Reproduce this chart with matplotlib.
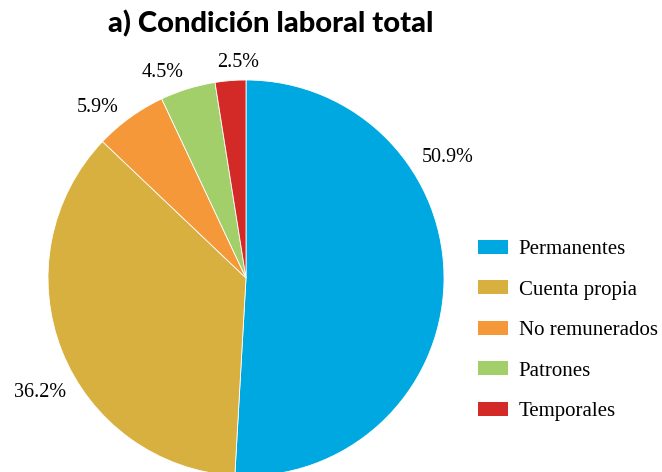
import matplotlib
matplotlib.use("Agg")
import matplotlib.pyplot as plt
from matplotlib.patches import Patch

plt.rcParams["font.serif"] = ["Liberation Serif", "DejaVu Serif"]

categories = ["Permanentes", "Cuenta propia", "No remunerados", "Patrones", "Temporales"]
values = [50.9, 36.2, 5.9, 4.5, 2.5]
pct_labels = ["50.9%", "36.2%", "5.9%", "4.5%", "2.5%"]
colors = ["#00A8E1", "#D8B040", "#F5983A", "#A2CF6A", "#D42A27"]
title = "a) Condición laboral total"

# layout (data coords, radius = 1)
label_pos = [(1.02, 0.61), (-1.04, -0.58), (-0.75, 0.86), (-0.42, 1.04), (-0.04, 1.086)]

W, H = 662, 472
fig = plt.figure(figsize=(W / 100, H / 100), dpi=100)
cx, cy, r = 246, 278, 198
ax = fig.add_axes([(cx - r) / W, (H - cy - r) / H, 2 * r / W, 2 * r / H])
wedges, _ = ax.pie(values, colors=colors, startangle=90, counterclock=False,
                   wedgeprops=dict(edgecolor="white", linewidth=0.6))
for w in wedges:
    w.set_clip_on(False)
ax.set_xlim(-1, 1)
ax.set_ylim(-1, 1)
ax.set_aspect("equal")
ax.axis("off")

for (x, y), t in zip(label_pos, pct_labels):
    ax.text(x, y, t, ha="center", va="center", fontsize=14.5,
            family="serif", clip_on=False)

fig.text(271 / W, 1 - 24 / H, title, ha="center", va="center",
         fontsize=21, fontweight="black", family="Lato")

handles = [Patch(facecolor=c, edgecolor="none") for c in colors]
fig.legend(handles, categories, loc="upper left",
           bbox_to_anchor=(478 / W, 1 - 240 / H), frameon=False,
           prop=dict(family="serif", size=15),
           handlelength=1.45, handleheight=0.64, labelspacing=1.02,
           handletextpad=0.5, borderaxespad=0, borderpad=0)

fig.savefig("out.png", dpi=100)
